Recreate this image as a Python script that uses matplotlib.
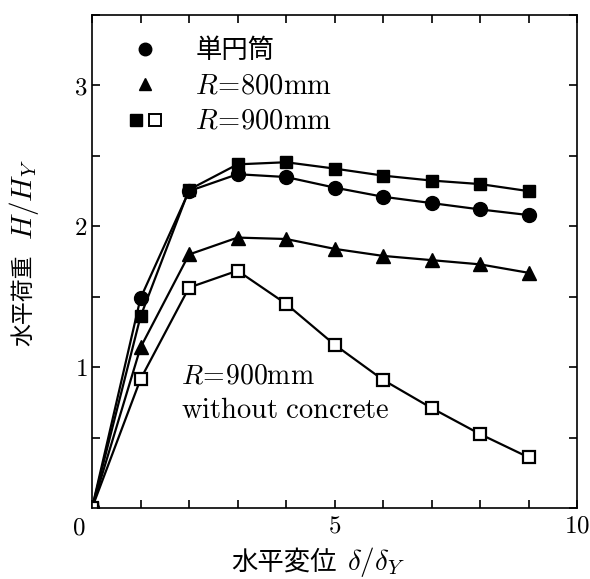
import matplotlib.pyplot as plt
from matplotlib.lines import Line2D
from matplotlib.legend_handler import HandlerTuple

plt.rcParams['font.family'] = ['DejaVu Serif', 'Noto Sans CJK JP']
plt.rcParams['mathtext.fontset'] = 'cm'

# displacement ratio delta/delta_Y
disp = [0, 1, 2, 3, 4, 5, 6, 7, 8, 9]

# load ratio H/H_Y
single_tube = [0, 1.49, 2.25, 2.37, 2.35, 2.275, 2.21, 2.165, 2.12, 2.08]
r800 = [0, 1.14, 1.80, 1.92, 1.91, 1.84, 1.79, 1.76, 1.73, 1.67]
r900 = [0, 1.36, 2.26, 2.44, 2.455, 2.41, 2.36, 2.325, 2.30, 2.25]
r900_no_conc = [0, 0.915, 1.565, 1.685, 1.45, 1.16, 0.91, 0.71, 0.525, 0.36]

labels = ['単円筒', '$R\\!=\\!800\\mathrm{mm}$', '$R\\!=\\!900\\mathrm{mm}$']
jp = ['Noto Sans CJK JP']

fig = plt.figure(figsize=(5.9, 5.79), dpi=100)
ax = fig.add_axes([0.156, 0.1226, 0.822, 0.8514])

lw = 1.6
ax.plot(disp, single_tube, color='black', lw=lw, marker='o', ms=10)
ax.plot(disp, r800, color='black', lw=lw, marker='^', ms=9.5)
ax.plot(disp, r900, color='black', lw=lw, marker='s', ms=9)
ax.plot(disp, r900_no_conc, color='black', lw=lw, marker='s', ms=9,
        mfc='white', mec='black', mew=1.6)

ax.set_xlim(0, 10)
ax.set_ylim(0, 3.5)
ax.set_xticks([0, 5, 10])
ax.set_xticks(range(0, 11), minor=True)
ax.set_yticks([0, 1, 2, 3])
ax.set_yticks([0.5, 1.5, 2.5, 3.5], minor=True)
ax.set_xticklabels(['', '$5$', '$10$'], fontsize=18)
ax.set_yticklabels(['', '$1$', '$2$', '$3$'], fontsize=18)
ax.tick_params(which='both', direction='in', top=True, right=True,
               length=6, width=1.2)
ax.tick_params(axis='x', pad=5)
for s in ax.spines.values():
    s.set_linewidth(1.2)

# shared origin label
ax.text(-0.014, -0.018, '$0$', transform=ax.transAxes, fontsize=18,
        ha='right', va='top')

# axis titles: Japanese part and math part drawn separately
fig.text(0.571, 0.016, '水平変位', family=jp, fontsize=19,
         ha='right', va='baseline')
fig.text(0.588, 0.016, '$\\delta/\\delta_Y$', fontsize=21,
         ha='left', va='baseline')
fig.text(0.0407, 0.482, '水平荷重', family=jp, fontsize=16.5,
         rotation=90, ha='center', va='center')
fig.text(0.0407, 0.655, '$H/H_Y$', fontsize=21,
         rotation=90, ha='center', va='center')

# legend
h_circ = Line2D([], [], color='black', ls='none', marker='o', ms=9)
h_tri = Line2D([], [], color='black', ls='none', marker='^', ms=9)
h_sq = Line2D([], [], color='black', ls='none', marker='s', ms=8)
h_osq = Line2D([], [], color='black', ls='none', marker='s', ms=8,
               mfc='white', mew=1.4)
leg = ax.legend([h_circ, h_tri, (h_sq, h_osq)], labels,
                handler_map={tuple: HandlerTuple(ndivide=None, pad=0.1)},
                loc='upper left', bbox_to_anchor=(0.075, 0.955),
                frameon=False, borderaxespad=0, borderpad=0,
                handlelength=1.29, handletextpad=1.25, labelspacing=0.22,
                prop={'family': jp, 'size': 19})
for t in leg.get_texts()[1:]:
    t.set_fontsize(20.5)

ax.text(1.84, 0.887, '$R\\!=\\!900\\mathrm{mm}$', fontsize=20,
        ha='left', va='baseline')
ax.text(1.84, 0.638, '$\\mathrm{without\\ concrete}$', fontsize=20.5,
        ha='left', va='baseline')

fig.savefig('out.png', dpi=100)
